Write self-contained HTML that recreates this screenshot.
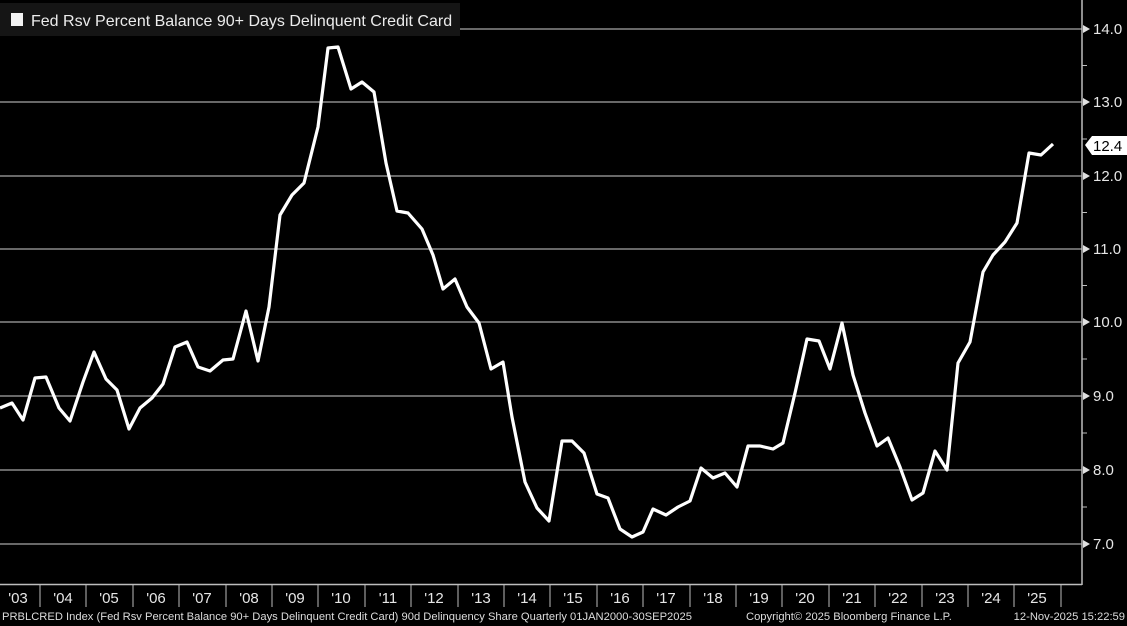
<!DOCTYPE html>
<html><head><meta charset="utf-8"><style>
html,body{margin:0;padding:0;background:#000;}
svg{display:block;}
text{font-family:"Liberation Sans",sans-serif;}
</style></head><body>
<svg width="1127" height="626" viewBox="0 0 1127 626" xmlns="http://www.w3.org/2000/svg">
<rect width="1127" height="626" fill="#000"/>
<g stroke="#8a8a8a" stroke-width="1.5">
<line x1="0" y1="29" x2="1082" y2="29"/>
<line x1="0" y1="102" x2="1082" y2="102"/>
<line x1="0" y1="176" x2="1082" y2="176"/>
<line x1="0" y1="249" x2="1082" y2="249"/>
<line x1="0" y1="322" x2="1082" y2="322"/>
<line x1="0" y1="396" x2="1082" y2="396"/>
<line x1="0" y1="470" x2="1082" y2="470"/>
<line x1="0" y1="544" x2="1082" y2="544"/>
</g>
<rect x="0" y="3" width="460" height="33" fill="#151515"/>
<rect x="11" y="13" width="12" height="13" fill="#f2f2f2"/>
<text x="31" y="26" fill="#ececec" font-size="16">Fed Rsv Percent Balance 90+ Days Delinquent Credit Card</text>
<polyline fill="none" stroke="#fff" stroke-width="3.2" stroke-linejoin="round" points="0,408 12,403 23,420 35,378 46,377 59,408 70,421 83,382 94,352 106,379 117,390 129,429 140,408 152,398 163,384 175,347 187,342 198,367 210,371 223,360 233,359 246,311 258,361 269,307 280,215 292,195 304,183 318,127 328,48 338,47 351,89 362,82 374,92 386,163 397,211 408,213 422,229 433,255 443,289 455,279 467,307 479,323 491,369 503,362 512,417 525,482 537,508 549,521 562,441 572,441 584,453 597,494 608,498 620,529 632,537 643,532 653,509 666,515 678,507 690,501 701,468 713,478 725,473 737,487 748,446 760,446 773,449 783,443 795,393 807,339 819,341 830,369 842,323 853,375 865,413 877,446 888,438 900,467 912,500 923,493 935,451 947,470 958,363 970,342 983,272 993,255 1005,242 1017,223 1029,153 1041,155 1053,144"/>
<g stroke="#bdbdbd" stroke-width="1.5">
<line x1="1082" y1="0" x2="1082" y2="585"/>
<line x1="0" y1="584.5" x2="1082" y2="584.5"/>
</g>
<g fill="#e0e0e0">
<polygon points="1083,25 1090,29 1083,33"/>
<polygon points="1083,98 1090,102 1083,106"/>
<polygon points="1083,172 1090,176 1083,180"/>
<polygon points="1083,245 1090,249 1083,253"/>
<polygon points="1083,318 1090,322 1083,326"/>
<polygon points="1083,392 1090,396 1083,400"/>
<polygon points="1083,466 1090,470 1083,474"/>
<polygon points="1083,540 1090,544 1083,548"/>
</g>
<g stroke="#bdbdbd" stroke-width="1">
<line x1="1082" y1="65.5" x2="1087" y2="65.5"/>
<line x1="1082" y1="139" x2="1087" y2="139"/>
<line x1="1082" y1="212.5" x2="1087" y2="212.5"/>
<line x1="1082" y1="285.5" x2="1087" y2="285.5"/>
<line x1="1082" y1="359" x2="1087" y2="359"/>
<line x1="1082" y1="433" x2="1087" y2="433"/>
<line x1="1082" y1="507" x2="1087" y2="507"/>
</g>
<g fill="#e6e6e6" font-size="15">
<text x="1093" y="34">14.0</text>
<text x="1093" y="107">13.0</text>
<text x="1093" y="181">12.0</text>
<text x="1093" y="254">11.0</text>
<text x="1093" y="327">10.0</text>
<text x="1093" y="401">9.0</text>
<text x="1093" y="475">8.0</text>
<text x="1093" y="549">7.0</text>
</g>
<polygon points="1085,145 1092,136 1127,136 1127,155 1092,155" fill="#fff"/>
<text x="1093" y="151" fill="#000" font-size="15">12.4</text>
<g stroke="#bdbdbd" stroke-width="1">
<line x1="40" y1="585" x2="40" y2="607"/><line x1="86" y1="585" x2="86" y2="607"/><line x1="133" y1="585" x2="133" y2="607"/><line x1="179" y1="585" x2="179" y2="607"/><line x1="226" y1="585" x2="226" y2="607"/><line x1="272" y1="585" x2="272" y2="607"/><line x1="318" y1="585" x2="318" y2="607"/><line x1="365" y1="585" x2="365" y2="607"/><line x1="411" y1="585" x2="411" y2="607"/><line x1="458" y1="585" x2="458" y2="607"/><line x1="504" y1="585" x2="504" y2="607"/><line x1="550" y1="585" x2="550" y2="607"/><line x1="597" y1="585" x2="597" y2="607"/><line x1="643" y1="585" x2="643" y2="607"/><line x1="690" y1="585" x2="690" y2="607"/><line x1="736" y1="585" x2="736" y2="607"/><line x1="782" y1="585" x2="782" y2="607"/><line x1="829" y1="585" x2="829" y2="607"/><line x1="875" y1="585" x2="875" y2="607"/><line x1="922" y1="585" x2="922" y2="607"/><line x1="968" y1="585" x2="968" y2="607"/><line x1="1014" y1="585" x2="1014" y2="607"/><line x1="1061" y1="585" x2="1061" y2="607"/>
</g>
<g fill="#e6e6e6" font-size="15" text-anchor="middle">
<text x="18" y="603">'03</text><text x="63" y="603">'04</text><text x="109" y="603">'05</text><text x="156" y="603">'06</text><text x="202" y="603">'07</text><text x="249" y="603">'08</text><text x="295" y="603">'09</text><text x="341" y="603">'10</text><text x="388" y="603">'11</text><text x="434" y="603">'12</text><text x="481" y="603">'13</text><text x="527" y="603">'14</text><text x="573" y="603">'15</text><text x="620" y="603">'16</text><text x="666" y="603">'17</text><text x="713" y="603">'18</text><text x="759" y="603">'19</text><text x="805" y="603">'20</text><text x="852" y="603">'21</text><text x="898" y="603">'22</text><text x="945" y="603">'23</text><text x="991" y="603">'24</text><text x="1037" y="603">'25</text>
</g>
<g fill="#dcdcdc" font-size="11.2">
<text x="2" y="620">PRBLCRED Index (Fed Rsv Percent Balance 90+ Days Delinquent Credit Card) 90d Delinquency Share Quarterly 01JAN2000-30SEP2025</text>
<text x="746" y="620">Copyright© 2025 Bloomberg Finance L.P.</text>
<text x="1125" y="620" text-anchor="end">12-Nov-2025 15:22:59</text>
</g>
</svg>
</body></html>
